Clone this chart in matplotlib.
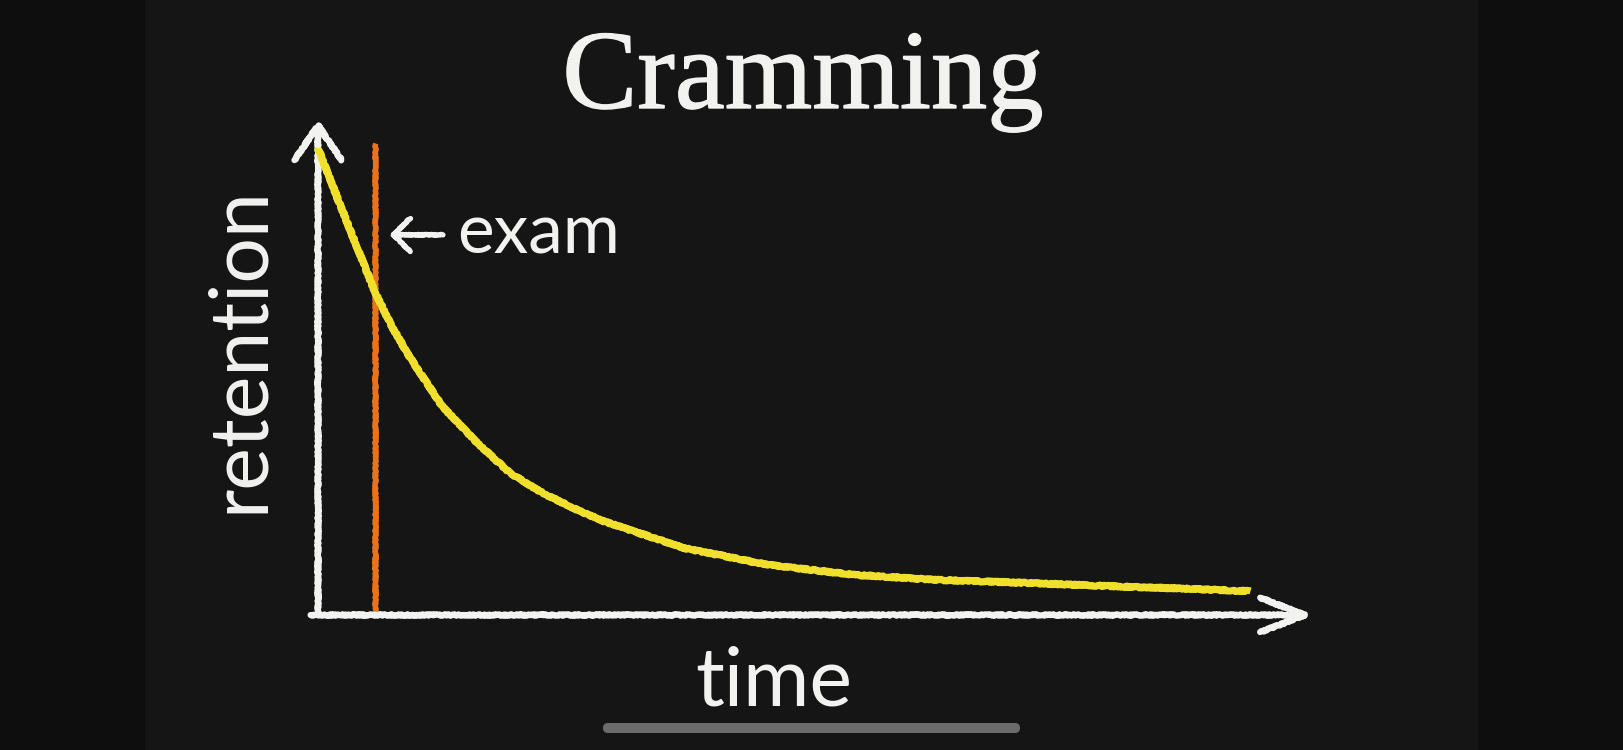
import matplotlib
matplotlib.use("Agg")
import matplotlib.pyplot as plt
import matplotlib.patheffects as pe
from matplotlib.patches import FancyArrowPatch, FancyBboxPatch, Rectangle

# forgetting curve (time in arbitrary units, retention in %)
time = [0.0, 0.20, 0.41, 0.61, 0.80, 0.99, 1.34, 1.71, 2.06, 2.41, 2.78, 3.03,
        3.93, 4.84, 5.75, 6.66, 7.56, 8.46, 9.36, 10.0]
retention = [100.0, 89.7, 79.2, 69.2, 61.5, 55.0, 44.5, 36.8, 30.4, 26.1, 22.5, 20.3,
             14.3, 10.7, 8.6, 7.5, 6.9, 6.2, 5.6, 5.1]

exam_time = 0.61
exam_span = [0.9, 101.0]

time_axis_end = 10.67
retention_axis_end = 106.0

title = "Cramming"
x_label = "time"
y_label = "retention"
exam_label = "exam"

BOARD = "#151515"
OUTER = "#0e0e0e"
CHALK = "#f2f2f0"
YELLOW = "#f0df2c"
ORANGE = "#ea7319"

W, H = 1624, 750
fig = plt.figure(figsize=(W / 100, H / 100), dpi=100, facecolor=OUTER)

# chalkboard area, kept behind the axes
fig.patches.append(Rectangle((145 / W, 0), (1478 - 145) / W, 1, transform=fig.transFigure,
                             facecolor=BOARD, edgecolor="none", zorder=-5))

ax = fig.add_axes([318 / W, (H - 615) / H, (1313 - 318) / W, (615 - 120) / H])
ax.set_xlim(0, time_axis_end)
ax.set_ylim(0, retention_axis_end)
ax.axis("off")
ax.patch.set_alpha(0)
ax.set_zorder(2)


def chalk(artist, scale=0.8):
    artist.set_sketch_params(scale=scale, length=3, randomness=3)
    return artist


# axes with arrow heads
y_arrow = FancyArrowPatch((0, 0), (0, retention_axis_end),
                          arrowstyle="->,head_length=25,head_width=17",
                          color=CHALK, lw=4.4, shrinkA=0, shrinkB=0,
                          capstyle="round", joinstyle="round", clip_on=False, zorder=3)
x_arrow = FancyArrowPatch((-0.08, 0), (time_axis_end, 0),
                          arrowstyle="->,head_length=32,head_width=12.5",
                          color=CHALK, lw=4.4, shrinkA=0, shrinkB=0,
                          capstyle="round", joinstyle="round", clip_on=False, zorder=3)
ax.add_patch(chalk(y_arrow))
ax.add_patch(chalk(x_arrow))

# exam marker
exam_line, = ax.plot([exam_time, exam_time], exam_span, color=ORANGE, lw=3.8,
                     solid_capstyle="butt", clip_on=False, zorder=2)
chalk(exam_line)

# retention curve
curve, = ax.plot(time, retention, color=YELLOW, lw=5.0, solid_capstyle="butt",
                 solid_joinstyle="round", clip_on=False, zorder=4)
chalk(curve)

# "<- exam"
exam_arrow = FancyArrowPatch((exam_time + 0.73, 81.4), (exam_time + 0.16, 81.4),
                             arrowstyle="->,head_length=12,head_width=12",
                             color=CHALK, lw=3.8, shrinkA=0, shrinkB=0,
                             capstyle="round", joinstyle="round", clip_on=False, zorder=5)
ax.add_patch(chalk(exam_arrow, 0.5))
fig.text(457 / W, (H - 253) / H, exam_label, color=CHALK, family="Lato",
         fontsize=50, ha="left", va="baseline")

fig.text(803 / W, (H - 108) / H, title, color=CHALK, family="Liberation Serif",
         fontsize=81, ha="center", va="baseline",
         path_effects=[pe.withStroke(linewidth=1, foreground=CHALK)])
fig.text(774 / W, (H - 705) / H, x_label, color=CHALK, family="Lato",
         fontsize=58, ha="center", va="baseline")
fig.text(240 / W, (H - 350) / H, y_label, color=CHALK, family="Lato",
         fontsize=58, rotation=90, ha="center", va="center")

# phone home indicator
fig.patches.append(FancyBboxPatch((603 / 100, (H - 733) / 100), (1020 - 603) / 100, 0.10,
                                  boxstyle="round,pad=0,rounding_size=0.05",
                                  transform=fig.dpi_scale_trans, facecolor="#6b6b6b",
                                  edgecolor="none", zorder=10))

fig.savefig("out.png", dpi=100, facecolor=OUTER)
